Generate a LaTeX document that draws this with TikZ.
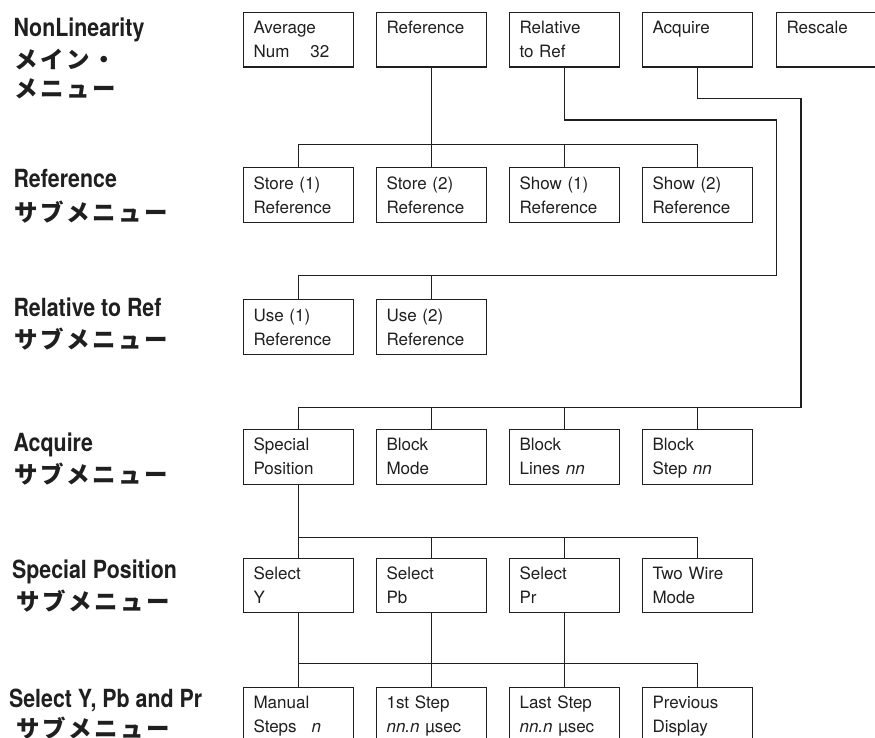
\documentclass[tikz,border=0pt]{standalone}
\usepackage{fontspec}
\setmainfont{TeX Gyre Heros}
\newfontfamily\lblfont[FakeStretch=0.855]{TeX Gyre Heros}
\newfontfamily\jpfont{Noto Sans CJK JP}

% two-line menu key text with fixed first-line height and last-line depth
\newcommand\keytext[2]{\rule{0pt}{16.5pt}#1\\#2\rule[-4.5pt]{0pt}{4.5pt}}
% katakana with extra tracking
\def\trk#1{\trkA#1\relax}
\def\trkA#1{\ifx\relax#1\else#1\kern2.5pt\expandafter\trkA\fi}

\tikzset{
  menukey/.style={draw, rectangle, anchor=north west, minimum width=110.3pt,
    minimum height=54.5pt, inner xsep=10pt, inner ysep=0pt, text width=90.3pt,
    align=left, font=\fontsize{17}{24}\selectfont},
  rowtitle/.style={anchor=base west, inner sep=0pt,
    font=\lblfont\fontsize{25}{28}\selectfont\bfseries},
  rowsub/.style={anchor=west, inner sep=0pt,
    font=\jpfont\fontsize{23.5}{26}\selectfont\bfseries},
  wire/.style={draw, line width=1.1pt}
}

\begin{document}
\begin{tikzpicture}[x=1pt, y=-1pt, line width=1.1pt, color=black!88]
\useasboundingbox (0,0) rectangle (875,738);
\clip (0,0) rectangle (875,738);

% row titles
\node[rowtitle] (t1) at (13,36.7) {NonLinearity};
\node[rowsub] (j1a) at (14,60) {\trk{メイン・}};
\node[rowsub] (j1b) at (14,89) {\trk{メニュー}};
\node[rowtitle] (t2) at (13,188) {Reference};
\node[rowsub] (j2) at (14,212) {\trk{サブメニュー}};
\node[rowtitle] (t3) at (13,316) {Relative to Ref};
\node[rowsub] (j3) at (14,339) {\trk{サブメニュー}};
\node[rowtitle] (t4) at (13,451) {Acquire};
\node[rowsub] (j4) at (14,474) {\trk{サブメニュー}};
\node[rowtitle] (t5) at (11.5,578) {Special Position};
\node[rowsub] (j5) at (16,601) {\trk{サブメニュー}};
\node[rowtitle] (t6) at (8.5,707) {Select Y, Pb and Pr};
\node[rowsub] (j6) at (16,728.5) {\trk{サブメニュー}};

% main menu
\node[menukey] (m1) at (243,12) {\keytext{Average}{Num\hspace{21pt}32}};
\node[menukey] (m2) at (376,12) {\keytext{Reference}{}};
\node[menukey] (m3) at (509,12) {\keytext{Relative}{to Ref}};
\node[menukey] (m4) at (642,12) {\keytext{Acquire}{}};
\node[menukey] (m5) at (776,12) {\keytext{Rescale}{}};

% reference submenu
\node[menukey] (r1) at (243,167.3) {\keytext{Store (1)}{Reference}};
\node[menukey] (r2) at (376,167.3) {\keytext{Store (2)}{Reference}};
\node[menukey] (r3) at (509,167.3) {\keytext{Show (1)}{Reference}};
\node[menukey] (r4) at (642,167.3) {\keytext{Show (2)}{Reference}};

% relative to ref submenu
\node[menukey] (u1) at (243,299.3) {\keytext{Use (1)}{Reference}};
\node[menukey] (u2) at (376,299.3) {\keytext{Use (2)}{Reference}};

% acquire submenu
\node[menukey] (a1) at (243,429) {\keytext{Special}{Position}};
\node[menukey] (a2) at (376,429) {\keytext{Block}{Mode}};
\node[menukey] (a3) at (509,429) {\keytext{Block}{Lines \textit{nn}}};
\node[menukey] (a4) at (642,429) {\keytext{Block}{Step \textit{nn}}};

% special position submenu
\node[menukey] (s1) at (243,557.7) {\keytext{Select}{Y}};
\node[menukey] (s2) at (376,557.7) {\keytext{Select}{Pb}};
\node[menukey] (s3) at (509,557.7) {\keytext{Select}{Pr}};
\node[menukey] (s4) at (642,557.7) {\keytext{Two Wire}{Mode}};

% select Y, Pb and Pr submenu
\node[menukey] (p1) at (243,686.7) {\keytext{Manual}{Steps\hspace{15pt}\textit{n}}};
\node[menukey] (p2) at (376,686.7) {\keytext{1st Step}{\textit{nn.n} µsec}};
\node[menukey] (p3) at (509,686.7) {\keytext{Last Step}{\textit{nn.n} µsec}};
\node[menukey] (p4) at (642,686.7) {\keytext{Previous}{Display}};

% bus levels and bends
\coordinate (busR) at (0,144.7);
\coordinate (relA) at (776.7,120);
\coordinate (relB) at (776.7,275.7);
\coordinate (acqA) at (801,98.3);
\coordinate (acqB) at (801,407.7);
\coordinate (busS) at (0,537.3);
\coordinate (busP) at (0,663.3);

% Reference -> reference submenu
\draw[wire] (m2.south) -- (r2.north);
\draw[wire] (r1.north) -- (r1.north |- busR) -- (r4.north |- busR) -- (r4.north);
\draw[wire] (r3.north) -- (r3.north |- busR);

% Relative to Ref -> its submenu
\draw[wire] (m3.south) |- (relA) -- (relB) -| (u1.north);
\draw[wire] (u2.north) -- (u2.north |- relB);

% Acquire -> its submenu
\draw[wire] (m4.south) |- (acqA) -- (acqB) -| (a1.north);
\draw[wire] (a2.north) -- (a2.north |- acqB);
\draw[wire] (a3.north) -- (a3.north |- acqB);
\draw[wire] (a4.north) -- (a4.north |- acqB);

% Special Position -> its submenu
\draw[wire] (a1.south) -- (s1.north);
\draw[wire] (s1.north |- busS) -- (s4.north |- busS) -- (s4.north);
\draw[wire] (s2.north) -- (s2.north |- busS);
\draw[wire] (s3.north) -- (s3.north |- busS);

% Select Y / Pb / Pr -> shared submenu
\draw[wire] (s1.south) -- (p1.north);
\draw[wire] (s2.south) -- (p2.north);
\draw[wire] (s3.south) -- (p3.north);
\draw[wire] (p1.north |- busP) -- (p4.north |- busP) -- (p4.north);
\end{tikzpicture}
\end{document}
